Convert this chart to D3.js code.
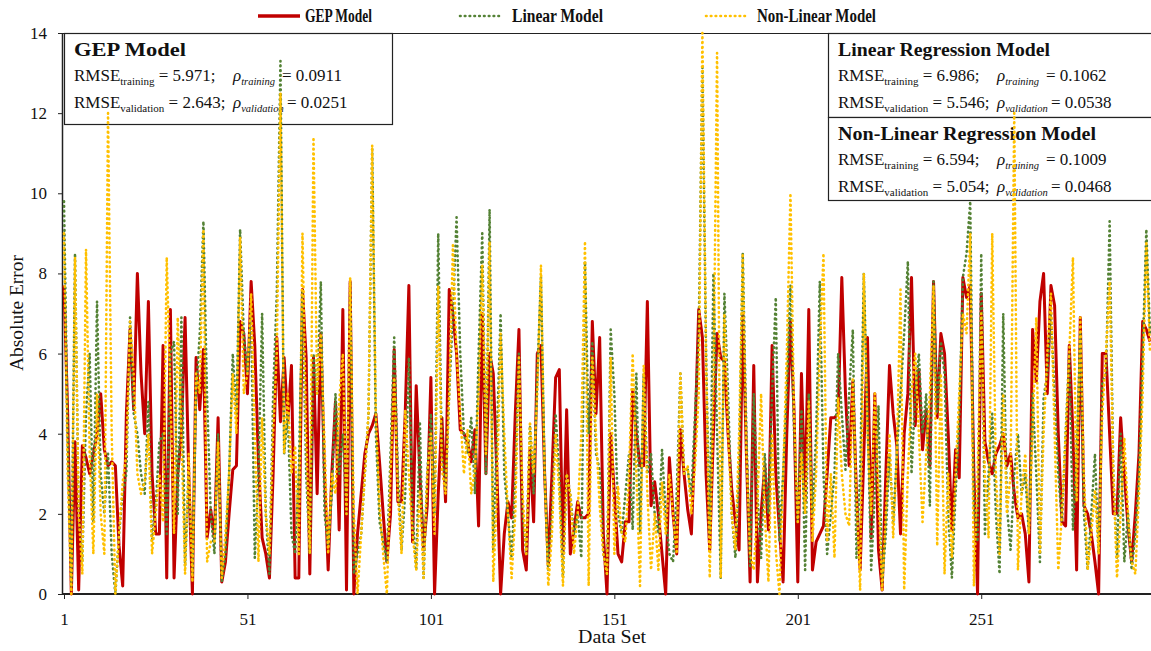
<!DOCTYPE html>
<html>
<head>
<meta charset="utf-8">
<script src="https://cdn.jsdelivr.net/npm/d3@7"></script>
<style>
  body { margin: 0; background: #fff; }
  svg { display: block; }
</style>
</head>
<body>
<svg id="chart" width="1151" height="651"></svg>
<script>
// absolute error per data set (297 points)
const gep = [
  7.7, 4.5, 0.0, 3.8, 0.1, 3.7, 3.4, 3.0, 3.5, 4.0,
  5.0, 3.6, 3.2, 3.3, 3.2, 1.2, 0.2, 4.5, 6.6, 4.6,
  8.0, 5.5, 4.0, 7.3, 3.0, 1.5, 1.5, 6.2, 0.4, 7.1,
  0.4, 3.0, 4.0, 6.9, 3.0, 0.0, 5.9, 4.6, 6.1, 1.4,
  2.1, 1.4, 4.4, 0.3, 0.8, 2.0, 3.1, 3.2, 6.8, 6.5,
  5.0, 7.8, 6.2, 3.3, 1.4, 1.0, 0.4, 3.0, 6.4, 4.3,
  5.9, 4.3, 5.7, 0.4, 0.4, 7.6, 5.9, 0.5, 5.9, 2.5,
  6.5, 3.0, 0.6, 3.0, 4.8, 1.6, 7.1, 0.1, 7.8, 0.0,
  1.5, 2.5, 3.5, 4.0, 4.2, 4.5, 3.3, 2.0, 0.8, 2.0,
  6.1, 2.3, 2.3, 4.5, 7.7, 1.3, 5.2, 3.0, 1.1, 2.2,
  5.4, 0.0, 2.5, 4.4, 2.3, 7.6, 7.0, 6.0, 4.1, 4.0,
  3.8, 3.3, 4.1, 1.7, 7.0, 3.0, 6.0, 5.5, 3.0, 0.0,
  1.5, 2.3, 1.9, 4.5, 6.6, 1.1, 0.6, 3.6, 1.8, 6.0,
  6.2, 3.0, 0.7, 3.0, 5.4, 5.6, 1.0, 4.6, 1.0, 1.6,
  2.3, 1.9, 1.9, 2.0, 6.8, 4.5, 6.4, 1.5, 0.0, 4.0,
  2.5, 1.0, 0.8, 1.8, 1.8, 5.1, 4.0, 3.2, 3.2, 7.3,
  2.2, 2.8, 2.0, 1.0, 0.0, 3.4, 2.0, 1.0, 4.1, 3.0,
  2.1, 1.5, 4.0, 7.1, 6.4, 3.0, 1.1, 4.0, 6.5, 5.9,
  5.8, 4.0, 2.6, 1.8, 1.1, 7.0, 3.5, 0.3, 5.7, 0.3,
  2.0, 3.2, 1.6, 6.2, 3.0, 1.6, 0.3, 4.0, 6.8, 4.5,
  0.3, 5.5, 2.3, 7.1, 0.6, 1.3, 1.5, 1.7, 3.0, 4.4,
  4.4, 4.5, 7.9, 5.0, 3.2, 5.3, 2.5, 0.6, 3.5, 6.4,
  1.4, 5.0, 1.1, 0.1, 3.0, 5.7, 4.5, 3.7, 1.5, 4.0,
  5.0, 7.9, 4.2, 5.6, 3.6, 4.6, 3.2, 7.8, 4.4, 6.5,
  6.0, 4.0, 1.6, 3.6, 2.9, 7.9, 7.4, 7.7, 3.0, 0.0,
  7.5, 3.8, 3.3, 3.0, 3.5, 3.7, 4.0, 3.2, 3.5, 2.5,
  1.9, 2.0, 1.5, 0.3, 6.6, 5.3, 7.3, 8.0, 5.0, 7.7,
  7.2, 4.0, 1.8, 1.7, 6.2, 4.0, 0.6, 6.9, 2.2, 2.0,
  1.5, 0.8, 0.0, 6.0, 6.0, 4.0, 2.0, 2.0, 4.4, 3.0,
  1.7, 0.8, 2.0, 3.5, 6.8, 6.6, 6.3
]

const linear = [
  9.8, 4.0, 0.2, 8.5, 2.0, 0.8, 4.5, 6.0, 1.8, 7.3,
  3.0, 2.0, 3.5, 1.0, 0.0, 1.5, 2.5, 3.0, 6.9, 4.5,
  4.0, 3.0, 2.5, 4.8, 1.3, 2.2, 3.8, 4.0, 1.5, 6.0,
  6.3, 2.0, 6.9, 0.7, 3.0, 0.5, 5.0, 6.5, 9.3, 4.9,
  2.0, 1.0, 4.0, 0.3, 1.0, 3.0, 6.0, 4.5, 9.1, 6.5,
  5.5, 7.0, 0.9, 3.0, 7.0, 2.0, 0.5, 5.0, 7.5, 13.3,
  3.5, 4.5, 1.5, 1.0, 3.0, 7.6, 3.0, 1.0, 6.0, 5.0,
  7.8, 2.0, 1.2, 2.5, 5.0, 3.0, 4.0, 2.0, 7.8, 0.5,
  1.0, 1.5, 3.0, 4.5, 11.1, 4.0, 1.8, 1.3, 0.8, 3.5,
  6.4, 3.0, 1.1, 2.5, 5.9, 2.0, 0.6, 4.3, 0.4, 3.0,
  4.5, 2.0, 9.0, 3.5, 2.6, 5.0, 7.0, 9.4, 6.0, 4.0,
  3.5, 4.4, 2.5, 6.0, 9.0, 3.0, 9.6, 1.1, 4.0, 7.0,
  3.0, 2.0, 0.9, 3.0, 6.0, 2.0, 1.0, 4.2, 2.5, 5.5,
  7.9, 3.0, 0.6, 2.0, 4.5, 3.0, 0.4, 3.0, 2.5, 1.5,
  2.0, 0.9, 8.3, 4.0, 6.3, 3.5, 3.1, 1.0, 0.5, 6.6,
  5.0, 2.0, 1.5, 2.5, 3.5, 1.6, 5.5, 1.5, 5.5, 3.0,
  3.5, 2.0, 1.5, 3.6, 2.0, 1.0, 0.8, 2.5, 5.5, 3.0,
  3.1, 2.5, 4.5, 6.5, 13.2, 6.0, 1.5, 8.0, 4.0, 0.4,
  7.5, 5.0, 2.0, 0.9, 3.0, 8.5, 4.0, 0.7, 5.0, 2.5,
  0.9, 3.5, 2.0, 5.0, 7.4, 1.3, 3.0, 5.0, 7.7, 4.0,
  1.8, 4.6, 0.6, 5.0, 2.0, 4.0, 7.8, 3.0, 1.0, 2.0,
  3.0, 6.0, 4.5, 3.1, 5.0, 6.6, 0.9, 3.0, 8.0, 4.5,
  0.6, 2.5, 4.7, 0.3, 1.5, 3.5, 1.8, 3.5, 5.0, 6.5,
  8.3, 3.0, 5.0, 6.0, 4.0, 5.0, 2.2, 7.8, 4.5, 6.3,
  5.5, 2.0, 0.4, 2.5, 4.3, 7.9, 8.5, 9.8, 2.2, 1.3,
  8.5, 1.5, 3.0, 4.5, 2.0, 0.5, 7.0, 2.2, 1.1, 3.0,
  4.0, 2.5, 3.0, 1.5, 5.0, 3.0, 0.8, 4.9, 5.5, 7.0,
  5.0, 3.0, 1.8, 4.0, 6.0, 1.6, 3.5, 6.5, 2.0, 0.6,
  2.0, 3.5, 1.0, 5.3, 5.5, 9.3, 3.0, 0.9, 4.0, 0.8,
  2.0, 0.6, 1.5, 3.0, 6.0, 9.1, 6.5
]

const nonLinear = [
  9.0, 3.0, 0.0, 8.4, 2.0, 0.5, 8.6, 3.5, 1.0, 5.0,
  2.0, 1.0, 12.0, 4.0, 0.0, 1.5, 2.8, 3.5, 6.8, 5.5,
  3.0, 2.5, 2.8, 4.0, 1.0, 2.0, 3.0, 1.8, 8.4, 5.0,
  1.5, 6.9, 4.0, 0.5, 3.5, 0.3, 5.5, 5.0, 9.1, 0.8,
  1.3, 1.3, 3.8, 0.4, 1.5, 3.0, 5.5, 4.0, 8.9, 5.0,
  5.5, 7.5, 4.0, 0.8, 4.4, 2.0, 1.0, 4.0, 6.0, 12.5,
  3.5, 5.0, 3.0, 3.7, 1.0, 9.0, 4.0, 1.0, 11.4, 5.0,
  6.5, 3.8, 1.0, 3.0, 2.5, 4.8, 6.0, 2.0, 7.9, 2.0,
  0.0, 1.5, 3.0, 4.5, 11.2, 4.5, 2.2, 1.0, 0.0, 3.0,
  5.4, 2.5, 1.0, 4.6, 3.0, 1.5, 0.6, 2.6, 0.4, 3.0,
  4.0, 1.5, 7.7, 3.1, 2.5, 5.0, 8.7, 6.0, 4.5, 3.0,
  4.1, 2.5, 3.1, 5.0, 8.2, 3.5, 8.8, 0.3, 2.5, 6.5,
  4.0, 2.0, 0.4, 2.0, 5.9, 2.5, 1.0, 4.3, 3.0, 5.0,
  8.2, 3.0, 0.2, 1.5, 4.0, 2.5, 0.2, 3.0, 2.5, 1.0,
  2.0, 4.0, 8.8, 0.2, 5.9, 4.0, 2.2, 1.0, 0.5, 5.9,
  1.0, 2.7, 1.5, 1.3, 3.0, 6.0, 3.0, 0.2, 5.7, 2.5,
  0.6, 2.0, 0.6, 2.8, 1.5, 3.0, 2.0, 1.0, 5.5, 3.0,
  3.2, 2.0, 3.2, 5.0, 14.0, 6.0, 0.4, 5.0, 13.5, 0.4,
  7.0, 4.0, 2.0, 1.1, 4.0, 8.5, 3.5, 1.0, 0.6, 2.2,
  5.0, 2.0, 0.3, 4.0, 1.1, 0.0, 3.0, 6.0, 10.0, 4.5,
  1.8, 3.5, 2.0, 4.8, 1.3, 3.0, 6.0, 8.5, 1.3, 3.0,
  0.9, 4.9, 3.0, 2.0, 1.7, 5.4, 2.5, 0.1, 8.0, 4.0,
  2.0, 5.0, 2.5, 0.1, 2.0, 4.0, 1.4, 3.5, 7.6, 0.1,
  3.0, 5.0, 6.0, 4.0, 1.8, 3.5, 5.0, 7.7, 1.2, 5.5,
  0.5, 3.0, 0.9, 3.0, 5.0, 7.0, 6.5, 9.0, 0.2, 3.0,
  7.0, 3.0, 1.4, 9.0, 3.0, 1.0, 5.0, 2.0, 3.0, 12.0,
  0.6, 2.5, 3.5, 1.5, 4.0, 6.9, 1.0, 4.0, 6.0, 7.5,
  4.0, 0.6, 2.0, 4.0, 6.0, 8.4, 2.3, 6.9, 3.0, 0.6,
  1.5, 2.6, 1.0, 4.5, 6.0, 7.8, 3.0, 0.4, 2.0, 3.9,
  2.0, 0.8, 0.5, 2.5, 5.0, 8.8, 6.0
]

const seriesNames = ['GEP Model', 'Linear Model', 'Non-Linear Model']
const seriesColors = ['#C00000', '#548235', '#FFC000']
const yTicks = [0, 2, 4, 6, 8, 10, 12, 14]
const xTicks = [1, 51, 101, 151, 201, 251]

// statistics shown in the boxes
const boxStats = [
  { title: 'GEP Model', rmseT: '5.971', rhoT: '0.0911', rmseV: '2.643', rhoV: '0.0251' },
  { title: 'Linear Regression Model', rmseT: '6.986', rhoT: '0.1062', rmseV: '5.546', rhoV: '0.0538' },
  { title: 'Non-Linear Regression Model', rmseT: '6.594', rhoT: '0.1009', rmseV: '5.054', rhoV: '0.0468' },
]

const width = 1151
const height = 651
const margin = { top: 33, right: 1, bottom: 57, left: 64 }
const serif = "'Liberation Serif', 'Times New Roman', serif"

const svg = d3.select('#chart')

svg.append('rect')
  .attr('width', width)
  .attr('height', height)
  .attr('fill', '#fff')

const x = d3.scaleLinear()
  .domain([1, gep.length])
  .range([margin.left, width - margin.right])

const y = d3.scaleLinear()
  .domain([0, 14])
  .range([height - margin.bottom, margin.top])

// top border of plot area
svg.append('line')
  .attr('x1', 62).attr('x2', width)
  .attr('y1', margin.top + 0.5).attr('y2', margin.top + 0.5)
  .attr('stroke', '#222')
  .attr('stroke-width', 1.2)

// y axis
const yAxis = svg.append('g')
  .attr('transform', 'translate(62,0)')
  .call(d3.axisLeft(y).tickValues(yTicks).tickSizeInner(4).tickSizeOuter(0).tickPadding(11))
yAxis.select('.domain').attr('stroke', '#222').attr('stroke-width', 1.5)
yAxis.selectAll('.tick line').attr('stroke', '#222')
yAxis.selectAll('text')
  .attr('font-family', serif)
  .attr('font-size', 17)
  .attr('fill', '#111')

// x axis
const xAxis = svg.append('g')
  .attr('transform', `translate(0,${y(0)})`)
  .call(d3.axisBottom(x).tickValues(xTicks).tickFormat(d3.format('d')).tickSizeInner(5).tickSizeOuter(0).tickPadding(14))
xAxis.select('.domain')
  .attr('d', `M62,0H${width}`)
  .attr('stroke', '#222').attr('stroke-width', 2)
xAxis.selectAll('.tick line').attr('stroke', '#222')
xAxis.selectAll('text')
  .attr('font-family', serif)
  .attr('font-size', 17)
  .attr('fill', '#111')

// axis titles
svg.append('text')
  .attr('x', 612)
  .attr('y', 643)
  .attr('text-anchor', 'middle')
  .attr('font-family', serif)
  .attr('font-size', 18)
  .attr('fill', '#111')
  .attr('textLength', 68)
  .attr('lengthAdjust', 'spacingAndGlyphs')
  .text('Data Set')

svg.append('text')
  .attr('transform', 'translate(23,313) rotate(-90)')
  .attr('text-anchor', 'middle')
  .attr('font-family', serif)
  .attr('font-size', 18)
  .attr('fill', '#111')
  .attr('textLength', 116)
  .attr('lengthAdjust', 'spacingAndGlyphs')
  .text('Absolute Error')

// statistic boxes (drawn under the lines)
const boxes = [
  { x: 64, y: 33, w: 328, h: 91, titleW: 112 },
  { x: 828, y: 33, w: 330, h: 84, titleW: 212 },
  { x: 828, y: 117, w: 330, h: 83, titleW: 258 },
]
const rhoOffset = 159

boxStats.forEach((s, i) => {
  const b = boxes[i]
  const g = svg.append('g')
    .attr('font-family', serif)
    .attr('fill', '#111')
  g.append('rect')
    .attr('x', b.x + 0.5).attr('y', b.y + 0.5)
    .attr('width', b.w).attr('height', b.h)
    .attr('fill', '#fff')
    .attr('stroke', '#222')
    .attr('stroke-width', 1.2)
  const tx = b.x + 10
  g.append('text')
    .attr('x', tx).attr('y', b.y + 23)
    .attr('font-weight', 'bold')
    .attr('font-size', 18)
    .attr('textLength', b.titleW)
    .attr('lengthAdjust', 'spacingAndGlyphs')
    .text(s.title)

  const lines = [
    { sub: 'training', rmse: s.rmseT, rho: s.rhoT, dy: 48, eq: 208 },
    { sub: 'validation', rmse: s.rmseV, rho: s.rhoV, dy: 75, eq: 213 },
  ]
  lines.forEach((l) => {
    const t = g.append('text').attr('x', tx).attr('y', b.y + l.dy).attr('font-size', 17)
    t.append('tspan').text('RMSE')
    t.append('tspan').attr('font-size', 11).attr('dy', 4).text(l.sub)
    t.append('tspan').attr('dy', -4).text(` = ${l.rmse};`)

    const r = g.append('text').attr('x', tx + rhoOffset).attr('y', b.y + l.dy).attr('font-size', 17)
    r.append('tspan').attr('font-style', 'italic').text('ρ')
    r.append('tspan').attr('font-style', 'italic').attr('font-size', 10.5).attr('dy', 4).text(l.sub)

    g.append('text')
      .attr('x', tx + l.eq).attr('y', b.y + l.dy)
      .attr('font-size', 17)
      .text(`= ${l.rho}`)
  })
})

// series lines
const line = d3.line()
  .x((d, i) => x(i + 1))
  .y((d) => y(d))

const series = [gep, linear, nonLinear]
series.forEach((values, k) => {
  const path = svg.append('path')
    .datum(values)
    .attr('d', line)
    .attr('fill', 'none')
    .attr('stroke', seriesColors[k])
    .attr('stroke-linejoin', 'round')
  if (k === 0) {
    path.attr('stroke-width', 3)
  } else {
    path.attr('stroke-width', 2.6)
      .attr('stroke-linecap', 'round')
      .attr('stroke-dasharray', '0.6 4.2')
  }
})

// legend
const legendItems = [
  { lx: 258, tx: 305, w: 67 },
  { lx: 460, tx: 512, w: 91 },
  { lx: 706, tx: 757, w: 119 },
]
const legend = svg.append('g')
  .attr('font-family', serif)
  .attr('font-weight', 'bold')
  .attr('font-size', 18)
  .attr('fill', '#111')

legendItems.forEach((it, k) => {
  const l = legend.append('line')
    .attr('x1', it.lx).attr('x2', it.lx + 42)
    .attr('y1', 16).attr('y2', 16)
    .attr('stroke', seriesColors[k])
  if (k === 0) {
    l.attr('stroke-width', 3.5)
  } else {
    l.attr('stroke-width', 2.6)
      .attr('stroke-linecap', 'round')
      .attr('stroke-dasharray', '0.6 4.2')
  }
  legend.append('text')
    .attr('x', it.tx).attr('y', 22)
    .attr('textLength', it.w)
    .attr('lengthAdjust', 'spacingAndGlyphs')
    .text(seriesNames[k])
})
</script>
</body>
</html>
